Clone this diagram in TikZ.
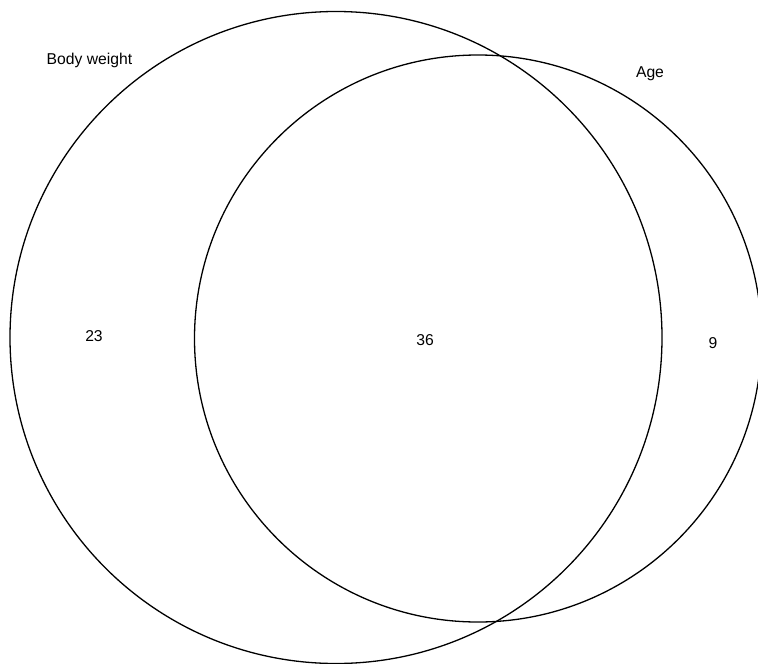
\documentclass[tikz,border=0pt]{standalone}
\usepackage{fontspec}
\setmainfont{Liberation Sans}
\usepackage{tikz}

\begin{document}
\begin{tikzpicture}[x=1pt, y=-1pt,
   setcirc/.style={circle, draw=black, line width=1.3, inner sep=0, outer sep=0},
   setlabel/.style={font=\fontsize{15.7}{18}\selectfont, text=black, inner sep=0},
   countlabel/.style={font=\fontsize{15.7}{18}\selectfont, text=black, inner sep=0}
  ]
  \useasboundingbox (0, 0) rectangle (758, 664);

  \node (BW) at (336, 337.5) [setcirc, minimum size=652] {};
  \node (AG) at (478, 338.5) [setcirc, minimum size=567] {};

  \node (BWlab) at (89.5, 60) [setlabel] {Body weight};
  \node (AGlab) at (650, 74) [setlabel] {Age};

  \node (N1) at (94, 336) [countlabel] {23};
  \node (N2) at (425, 340) [countlabel] {36};
  \node (N3) at (713, 343) [countlabel] {9};

\end{tikzpicture}
\end{document}
